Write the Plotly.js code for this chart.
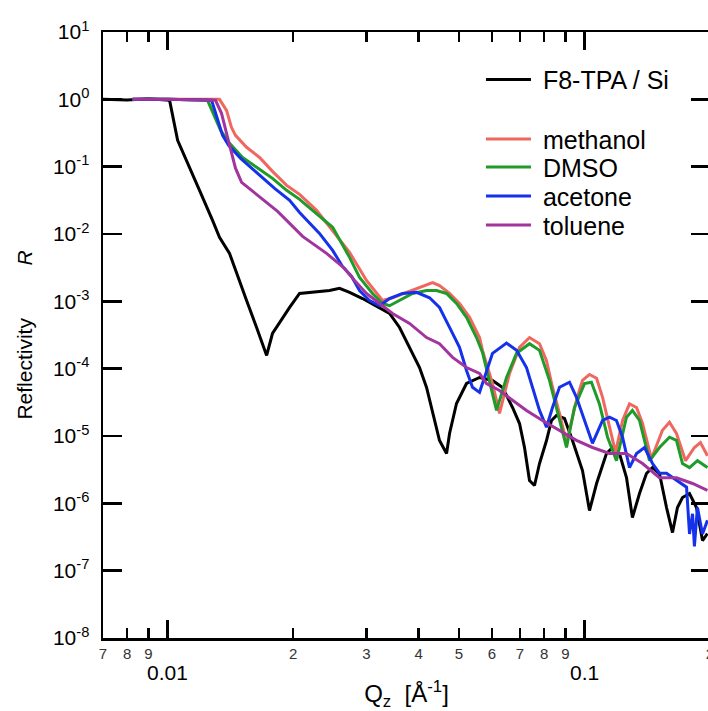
<!DOCTYPE html>
<html><head><meta charset="utf-8">
<script src="https://cdn.plot.ly/plotly-3.0.1.min.js"></script>
<style>html,body{margin:0;padding:0;overflow:hidden;background:#fff}</style>
</head><body><div id="chart" style="width:720px;height:711px"></div>
<script>
// ---- data (Q in 1/Angstrom, R reflectivity) ----
const qF8 = [0.00698,0.0080,0.0090,0.00957,0.01011,0.01057,0.01111,0.01193,0.01282,0.01332,0.01408,0.01464,0.01547,0.01635,0.01728,0.01785,0.01887,0.01962,0.02073,0.02227,0.02446,0.02585,0.02732,0.02935,0.03224,0.03407,0.03601,0.03805,0.04021,0.04180,0.04321,0.04490,0.04668,0.04746,0.04932,0.05212,0.05601,0.06017,0.06359,0.06720,0.06985,0.07180,0.07381,0.07587,0.07800,0.08107,0.08334,0.08567,0.08954,0.09358,0.09890,0.1028,0.1069,0.1129,0.1167,0.1213,0.1261,0.1303,0.1355,0.1408,0.1456,0.1513,0.1573,0.1626,0.1671,0.1718,0.1786,0.1856,0.1919,0.1972];
const rF8 = [1.0,0.98,1.02,1.0,0.97,0.246,0.124,0.0445,0.0159,0.0089,0.00515,0.0026,0.00103,4.09e-4,1.57e-4,3.33e-4,5.77e-4,8.11e-4,1.31e-3,1.36e-3,1.45e-3,1.56e-3,1.36e-3,1.10e-3,8.11e-4,6.61e-4,4.09e-4,2.07e-4,1.04e-4,5.26e-5,2.16e-5,8.57e-6,5.49e-6,1.09e-5,3.04e-5,6.03e-5,7.40e-5,6.68e-5,5.26e-5,2.65e-5,1.53e-5,6.75e-6,2.18e-6,1.84e-6,3.90e-6,8.57e-6,1.70e-5,2.02e-5,1.82e-5,8.57e-6,3.07e-6,7.81e-7,1.97e-6,5.49e-6,6.75e-6,5.49e-6,2.42e-6,6.15e-7,1.40e-6,2.77e-6,3.40e-6,2.77e-6,8.67e-7,3.68e-7,8.67e-7,1.22e-6,1.40e-6,8.67e-7,2.80e-7,3.56e-7];

const qMethanol = [0.00824,0.0100,0.0120,0.01332,0.01385,0.01423,0.01455,0.01547,0.01662,0.01785,0.01930,0.02073,0.02277,0.02488,0.02732,0.03000,0.03171,0.03278,0.03464,0.03742,0.04021,0.04321,0.04490,0.04746,0.05014,0.05300,0.05601,0.05693,0.06017,0.06254,0.06609,0.06985,0.07381,0.07800,0.08107,0.08380,0.08710,0.09055,0.09567,0.09890,0.1028,0.1069,0.1105,0.1148,0.1187,0.1234,0.1282,0.1333,0.1378,0.1447,0.1538,0.1599,0.1662,0.1747,0.1835,0.1897,0.1972];
const rMethanol = [1.0,1.0,1.0,1.0,0.686,0.384,0.292,0.194,0.137,0.0851,0.0527,0.0388,0.0225,0.0113,0.00533,0.00204,0.00131,0.00103,0.00113,0.00136,0.00160,0.00190,0.00171,0.00131,9.3e-4,5.8e-4,2.9e-4,1.87e-4,6.0e-5,2.16e-5,8.5e-5,2.07e-4,2.9e-4,2.35e-4,1.31e-4,5.3e-5,2.16e-5,8.0e-6,3.4e-5,6.7e-5,8.2e-5,7.2e-5,3.75e-5,1.35e-5,5.7e-6,1.7e-5,3.0e-5,2.65e-5,1.53e-5,4.6e-6,1.22e-5,1.6e-5,1.09e-5,4.3e-6,6.75e-6,8.0e-6,5.1e-6];

const qDMSO = [0.00824,0.0100,0.01247,0.01296,0.01340,0.01408,0.01513,0.01635,0.01785,0.01930,0.02073,0.02227,0.02488,0.02732,0.02887,0.03102,0.03278,0.03407,0.03601,0.03869,0.04180,0.04416,0.04668,0.04932,0.05212,0.05508,0.05693,0.05918,0.06152,0.06501,0.06872,0.07381,0.07800,0.08242,0.08710,0.09055,0.09462,0.1000,0.1039,0.1086,0.1136,0.1193,0.1261,0.1303,0.1355,0.1432,0.1513,0.1599,0.1662,0.1718,0.1786,0.1866,0.1972];
const rDMSO = [1.0,1.0,0.966,0.540,0.346,0.222,0.137,0.0977,0.0670,0.0445,0.0327,0.0225,0.0126,0.00450,0.00226,0.00131,9.3e-4,8.6e-4,0.00103,0.00131,0.00145,0.00145,0.00131,9.3e-4,5.8e-4,2.9e-4,1.74e-4,6.7e-5,2.4e-5,7.4e-5,1.69e-4,2.35e-4,1.87e-4,6.7e-5,1.7e-5,6.75e-6,2.65e-5,6.0e-5,6.3e-5,3.0e-5,9.6e-6,4.3e-6,1.9e-5,2.4e-5,1.7e-5,4.3e-6,6.75e-6,9.6e-6,8.6e-6,3.9e-6,3.4e-6,4.3e-6,3.4e-6];

const qAcetone = [0.00824,0.0100,0.01275,0.01311,0.01355,0.01401,0.01497,0.01644,0.01806,0.01962,0.02073,0.02314,0.02488,0.02628,0.02763,0.02887,0.03050,0.03224,0.03407,0.03660,0.03954,0.04250,0.04490,0.04746,0.05014,0.05212,0.05387,0.05601,0.05821,0.06017,0.06501,0.06872,0.07259,0.07504,0.07800,0.08107,0.08380,0.08710,0.09204,0.09567,0.1011,0.1045,0.1105,0.1148,0.1193,0.1234,0.1282,0.1333,0.1393,0.1456,0.1513,0.1573,0.1662,0.1757,0.1786,0.1816,0.1835,0.1866,0.1919,0.1972];
const rAcetone = [1.0,1.0,0.966,0.540,0.292,0.207,0.133,0.0795,0.0476,0.0316,0.0209,0.0102,0.00571,0.00330,0.00234,0.00145,0.00103,8.6e-4,0.00110,0.00131,0.00136,0.00113,8.1e-4,4.1e-4,2.07e-4,9.4e-5,5.3e-5,4.45e-5,9.4e-5,1.69e-4,2.4e-4,1.87e-4,1.04e-4,5.3e-5,2.4e-5,1.35e-5,2.65e-5,5.3e-5,6.3e-5,3.75e-5,1.35e-5,7.8e-6,1.7e-5,1.9e-5,1.7e-5,9.6e-6,3.4e-6,5.5e-6,6.75e-6,3.9e-6,2.8e-6,2.8e-6,2.2e-6,1.74e-6,3.5e-7,7.0e-7,2.3e-7,8.7e-7,3.5e-7,5.6e-7];

const qToluene = [0.00824,0.0100,0.01303,0.01347,0.01385,0.01416,0.01455,0.01505,0.01581,0.01708,0.01836,0.01962,0.02108,0.02406,0.02658,0.02809,0.03000,0.03224,0.03464,0.03805,0.04180,0.04490,0.04826,0.05212,0.05601,0.05821,0.06254,0.06720,0.07259,0.07930,0.08710,0.09567,0.1045,0.1148,0.1261,0.1378,0.1513,0.1662,0.1816,0.1972];
const rToluene = [1.0,1.0,0.966,0.619,0.313,0.175,0.0950,0.0585,0.0460,0.0316,0.0217,0.0144,0.00921,0.00515,0.00308,0.00204,0.00131,9.3e-4,6.6e-4,4.7e-4,2.9e-4,2.35e-4,1.47e-4,1.04e-4,8.5e-5,6.0e-5,4.75e-5,3.4e-5,2.4e-5,1.7e-5,1.22e-5,8.6e-6,6.75e-6,5.5e-6,5.5e-6,3.9e-6,2.4e-6,2.4e-6,1.97e-6,1.56e-6];

const seriesNames = ['F8-TPA / Si','methanol','DMSO','acetone','toluene'];
const xLabelVals = [0.007,0.008,0.009,0.02,0.03,0.04,0.05,0.06,0.07,0.08,0.09,0.2];
const xLabelText = ['7','8','9','2','3','4','5','6','7','8','9','2'];
const xDecadeVals = [0.01,0.1];
const xDecadeText = ['0.01','0.1'];
const yTickVals = [1e-8,1e-7,1e-6,1e-5,1e-4,1e-3,1e-2,1e-1,1e0,1e1];
const yTickText = ['10<sup>-8</sup>','10<sup>-7</sup>','10<sup>-6</sup>','10<sup>-5</sup>','10<sup>-4</sup>','10<sup>-3</sup>','10<sup>-2</sup>','10<sup>-1</sup>','10<sup>0</sup>','10<sup>1</sup>'];

// ---- plot ----
const FONT = 'Liberation Sans, Arial, sans-serif';
const colors = ['#000000','#f0675f','#1f9b2a','#1531ea','#a1359d'];
const xs = [qF8,qMethanol,qDMSO,qAcetone,qToluene];
const ys = [rF8,rMethanol,rDMSO,rAcetone,rToluene];
const legendIds = ['legend','legend2','legend3','legend4','legend5'];
const traces = xs.map((x,i)=>({
  type:'scatter', mode:'lines', x:x, y:ys[i], name:'&nbsp;'+seriesNames[i],
  line:{color:colors[i], width:3}, legend:legendIds[i], hoverinfo:'skip'
}));

const legY = [0.921,0.823,0.777,0.729,0.681];
const layout = {
  width:720, height:711,
  margin:{l:103, r:10, t:32, b:73},
  paper_bgcolor:'#fff', plot_bgcolor:'#fff',
  font:{family:FONT, color:'#000'},
  showlegend:true,
  xaxis:{
    type:'log', range:[Math.log10(0.007), Math.log10(0.2)],
    showline:true, linecolor:'#000', linewidth:2.5, mirror:'ticks',
    ticks:'inside', ticklen:10, tickwidth:2.5, tickcolor:'#000',
    tickmode:'array', tickvals:xLabelVals, ticktext:xLabelText,
    tickfont:{size:15, color:'#333', family:FONT},
    minor:{tickmode:'array', tickvals:xDecadeVals, ticks:'inside', ticklen:18, tickwidth:2.5, tickcolor:'#000', showgrid:false},
    showgrid:false, zeroline:false,
    title:{text:'Q<sub>z</sub>&nbsp;&nbsp;[Å<sup>-1</sup>]', font:{size:24, family:FONT}, standoff:32}
  },
  yaxis:{
    type:'log', range:[-8,1],
    showline:true, linecolor:'#000', linewidth:2.5, mirror:'ticks',
    ticks:'inside', ticklen:19, tickwidth:2.5, tickcolor:'#000',
    tickmode:'array', tickvals:yTickVals, ticktext:yTickText,
    tickfont:{size:21, family:FONT}, ticklabelstandoff:7,
    showgrid:false, zeroline:false,
    title:{text:'Reflectivity&nbsp;&nbsp;&nbsp;&nbsp;&nbsp;&nbsp;&nbsp;&nbsp;&nbsp;<i>R</i>', font:{size:21, family:FONT}, standoff:15}
  },
  annotations: xDecadeVals.map((v,i)=>({
    xref:'x', yref:'paper', x:Math.log10(v), y:0, yanchor:'middle', yshift:-34,
    text:xDecadeText[i], showarrow:false, font:{size:21, family:FONT, color:'#000'}
  }))
};
legendIds.forEach((id,i)=>{
  layout[id] = {x:0.6227, xanchor:'left', y:legY[i], yanchor:'middle', bgcolor:'rgba(0,0,0,0)',
    borderwidth:0, font:{size:25, family:FONT, color:'#000'}, itemwidth:45};
});

Plotly.newPlot('chart', traces, layout, {displayModeBar:false, staticPlot:true});
</script>
</body></html>
